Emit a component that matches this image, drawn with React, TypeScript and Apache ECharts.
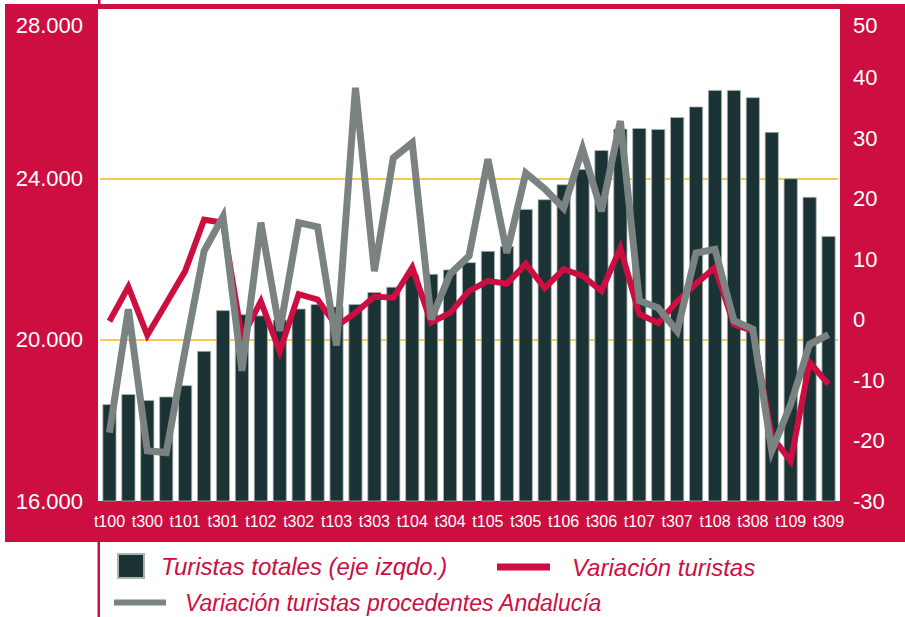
import React, { useEffect, useRef } from 'react';
import * as echarts from 'echarts';

const categories = [
  't100', 't200', 't300', 't400', 't101', 't201', 't301', 't401',
  't102', 't202', 't302', 't402', 't103', 't203', 't303', 't403',
  't104', 't204', 't304', 't404', 't105', 't205', 't305', 't405',
  't106', 't206', 't306', 't406', 't107', 't207', 't307', 't407',
  't108', 't208', 't308', 't408', 't109', 't209', 't309',
];

const turistasTotales = [
  18400, 18650, 18500, 18590, 18870, 19720, 20730, 20630,
  20600, 20500, 20770, 20880, 20820, 20880, 21180, 21310,
  21620, 21630, 21740, 21920, 22200, 22320, 23240, 23480,
  23850, 24230, 24700, 25230, 25245, 25220, 25520, 25780,
  26190, 26190, 26010, 25150, 24000, 23540, 22570,
];

const variacionTuristas = [
  -0.3, 5.4, -2.6, 2.7, 8, 16.5, 16, -3,
  3, -5.3, 4.2, 3.3, -1.1, 1.1, 3.8, 3.6,
  8.6, -0.5, 1.1, 4.7, 6.4, 5.9, 9.2, 5.2,
  8.3, 7.2, 4.7, 11.8, 0.9, -0.6, 3, 5.9,
  8.6, -0.8, -1.9, -19.3, -23.4, -7.1, -10.7,
];

const variacionAndalucia = [
  -18.7, 1.7, -21.7, -22, -5, 11.3, 17, -8.5,
  16, -1.9, 16, 15.3, -4.3, 38.3, 8, 26.7,
  29.2, 0, 7.5, 10.5, 26.5, 11, 24.2, 21.6,
  18.4, 28.2, 17.9, 32.8, 3.1, 1.9, -1.9, 11,
  11.6, -0.2, -1.6, -21.7, -14, -4.1, -2.5,
];

const leftTicks = { min: 16000, max: 28000, interval: 4000 };
const rightTicks = { min: -30, max: 50, interval: 10 };

const NAME_BAR = 'Turistas totales (eje izqdo.)';
const NAME_RED = 'Variación turistas';
const NAME_GRAY = 'Variación turistas procedentes Andalucía';

const CRIMSON = '#CC0E41';
const BAR = '#1B3334';
const GRAY = '#7A8282';
const GOLD = '#F6B41B';
const FONT = '"Liberation Sans", Arial, Helvetica, sans-serif';

function thousands(v: number): string {
  return String(v).replace(/\B(?=(\d{3})+(?!\d))/g, '.');
}

export default function App() {
  const ref = useRef<HTMLDivElement>(null);

  useEffect(() => {
    const chart = echarts.init(ref.current!, null, { renderer: 'svg' });
    const legendText = {
      color: CRIMSON,
      fontStyle: 'italic',
      fontSize: 24,
      lineHeight: 22,
      fontFamily: FONT,
    };
    const axisText = { color: '#fff', fontSize: 22, fontFamily: FONT };
    chart.setOption({
      animation: false,
      graphic: {
        elements: [
          { type: 'rect', z: -100, silent: true, shape: { x: 5, y: 4, width: 900, height: 538 }, style: { fill: CRIMSON } },
          { type: 'rect', z: -99, silent: true, shape: { x: 98, y: 9, width: 742, height: 492 }, style: { fill: '#ffffff' } },
          { type: 'rect', z: -99, silent: true, shape: { x: 98, y: 0, width: 2.5, height: 5 }, style: { fill: CRIMSON } },
          { type: 'rect', z: -99, silent: true, shape: { x: 97.5, y: 541, width: 2.5, height: 76 }, style: { fill: CRIMSON } },
        ],
      },
      grid: { left: 100, right: 67, top: 17, bottom: 116 },
      legend: [
        {
          left: 117, top: 553, padding: 0, itemWidth: 26, itemHeight: 24,
          selectedMode: false,
          data: [{ name: NAME_BAR, icon: 'rect' }],
          textStyle: { ...legendText, padding: [0, 0, 0, 12] },
        },
        {
          left: 497, top: 555, padding: 0, itemWidth: 53, itemHeight: 7,
          selectedMode: false,
          data: [{ name: NAME_RED, icon: 'rect', itemStyle: { color: CRIMSON } }],
          textStyle: { ...legendText, padding: [0, 0, 0, 17] },
        },
        {
          left: 114, top: 591, padding: 0, itemWidth: 52, itemHeight: 6,
          selectedMode: false,
          data: [{ name: NAME_GRAY, icon: 'rect', itemStyle: { color: GRAY } }],
          textStyle: { ...legendText, fontSize: 23, lineHeight: 21, padding: [0, 0, 0, 14] },
        },
      ],
      xAxis: {
        type: 'category',
        data: categories,
        axisLine: { show: false },
        axisTick: { show: false },
        splitLine: { show: false },
        axisLabel: {
          interval: 1,
          color: '#fff',
          fontSize: 16,
          fontFamily: '"Liberation Sans Narrow", "Liberation Sans", Arial, sans-serif',
          margin: 12,
        },
      },
      yAxis: [
        {
          type: 'value',
          position: 'left',
          min: leftTicks.min,
          max: leftTicks.max,
          interval: leftTicks.interval,
          axisLine: { show: false },
          axisTick: { show: false },
          splitLine: {
            show: true,
            lineStyle: { color: ['rgba(0,0,0,0)', GOLD, GOLD, 'rgba(0,0,0,0)'], width: 1.5 },
          },
          axisLabel: {
            ...axisText,
            margin: 17,
            formatter: (v: number) => (v === leftTicks.max ? `{top|${thousands(v)}}` : thousands(v)),
            rich: { top: { ...axisText, padding: [16, 0, 0, 0] } },
          },
        },
        {
          type: 'value',
          position: 'right',
          min: rightTicks.min,
          max: rightTicks.max,
          interval: rightTicks.interval,
          axisLine: { show: false },
          axisTick: { show: false },
          splitLine: { show: false },
          axisLabel: {
            ...axisText,
            margin: 15,
            formatter: (v: number) => (v === rightTicks.max ? `{top|${v}}` : String(v)),
            rich: { top: { ...axisText, padding: [16, 0, 0, 0] } },
          },
        },
      ],
      series: [
        {
          type: 'bar',
          name: NAME_BAR,
          yAxisIndex: 0,
          data: turistasTotales,
          barWidth: 14,
          itemStyle: { color: BAR, borderColor: '#a9b5b4', borderWidth: 0.8 },
          z: 2,
        },
        {
          type: 'line',
          name: NAME_RED,
          yAxisIndex: 1,
          data: variacionTuristas,
          symbol: 'none',
          color: CRIMSON,
          lineStyle: { color: CRIMSON, width: 6, join: 'miter' },
          z: 3,
        },
        {
          type: 'line',
          name: NAME_GRAY,
          yAxisIndex: 1,
          data: variacionAndalucia,
          symbol: 'none',
          color: GRAY,
          lineStyle: { color: GRAY, width: 7, join: 'miter' },
          z: 4,
        },
      ],
    });
    return () => chart.dispose();
  }, []);

  return (
    <div
      ref={ref}
      style={{ position: 'absolute', left: 0, top: 0, width: 905, height: 617 }}
    />
  );
}
